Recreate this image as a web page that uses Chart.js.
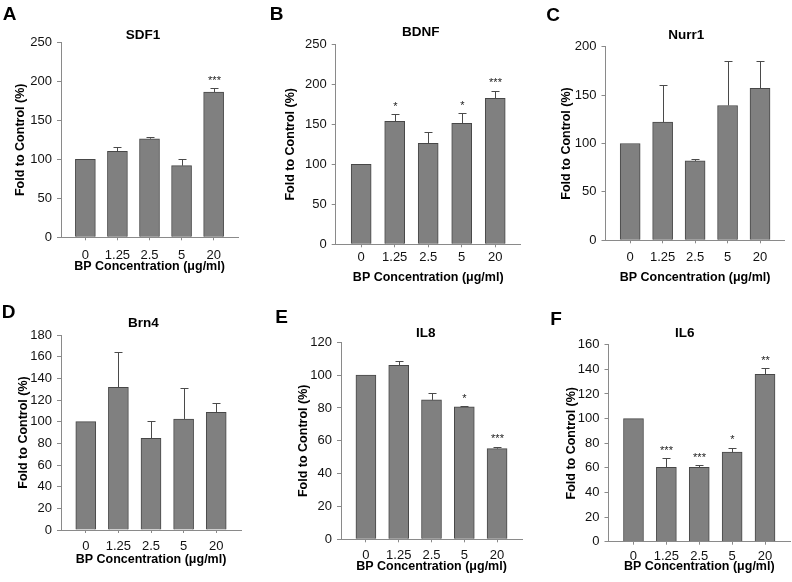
<!DOCTYPE html>
<html><head><meta charset="utf-8">
<script src="https://cdn.jsdelivr.net/npm/chart.js@4.4.1/dist/chart.umd.min.js"></script>
<style>
html,body{margin:0;padding:0;background:#fff;width:792px;height:582px;overflow:hidden;position:relative;font-family:"Liberation Sans",Arial,sans-serif}
canvas{position:absolute}
.lt{position:absolute;font-weight:bold;font-size:19px;line-height:1;transform:translate(-50%,-50%);color:#000}
.tt{position:absolute;font-weight:bold;font-size:13.5px;line-height:1;transform:translate(-50%,-50%);white-space:nowrap;color:#000}
</style></head><body>
<script>
// ---- data ----
const categories = ['0', '1.25', '2.5', '5', '20'];
const xAxisTitle = 'BP Concentration (μg/ml)';
const yAxisTitle = 'Fold to Control (%)';

const sdf1 = [100, 110.3, 126.4, 91.8, 186.3];
const sdf1Err = [0, 5, 2.5, 8, 4.7];
const sdf1Sig = ['', '', '', '', '***'];

const bdnf = [100, 153.8, 126.3, 151.3, 182.5];
const bdnfErr = [0, 8.7, 13.7, 12.5, 9.5];
const bdnfSig = ['', '*', '', '*', '***'];

const nurr1 = [100, 122, 82, 139.3, 157];
const nurr1Err = [0, 38.3, 2.2, 45.5, 28.5];
const nurr1Sig = ['', '', '', '', ''];

const brn4 = [100, 131.7, 84.6, 102.5, 108.6];
const brn4Err = [0, 32.3, 16, 28.9, 8.6];
const brn4Sig = ['', '', '', '', ''];

const il8 = [100, 106, 84.9, 80.7, 55.2];
const il8Err = [0, 2.6, 4, 0.4, 1.3];
const il8Sig = ['', '', '', '*', '***'];

const il6 = [100, 60.5, 60.5, 72.7, 136];
const il6Err = [0, 7.3, 1.6, 3.7, 5];
const il6Sig = ['', '***', '***', '*', '**'];

const yMaxes = [250, 250, 200, 180, 120, 160];
const ySteps = [50, 50, 50, 20, 20, 20];
const panelLetters = ['A', 'B', 'C', 'D', 'E', 'F'];
const panelTitles = ['SDF1', 'BDNF', 'Nurr1', 'Brn4', 'IL8', 'IL6'];

// ---- layout (page pixel geometry) ----
const layoutGeo = [
  {cl:0,   ct:0,   cw:264, ch:292, L:61,    R:238,   T:42.3,  B:237.3, yTitleX:20.8,  xTitleY:266.7, xTickY:255,   tx:143,   ty:35,    lx:9.5,   ly:13},
  {cl:264, ct:0,   cw:264, ch:292, L:335.7, R:520.7, T:44.3,  B:244.3, yTitleX:291,   xTitleY:278,   xTickY:257,   tx:420.7, ty:32.3,  lx:276.5, ly:13},
  {cl:528, ct:0,   cw:264, ch:292, L:605.5, R:784.7, T:46.7,  B:240.3, yTitleX:566.8, xTitleY:278,   xTickY:257.3, tx:686.3, ty:35,    lx:553,   ly:14},
  {cl:0,   ct:292, cw:264, ch:290, L:61,    R:241,   T:335,   B:530,   yTitleX:24,    xTitleY:560,   xTickY:546.7, tx:143.3, ty:323.3, lx:8.5,   ly:310.5},
  {cl:264, ct:292, cw:264, ch:290, L:341,   R:522,   T:342.3, B:539.3, yTitleX:303.2, xTitleY:566.7, xTickY:555,   tx:425.7, ty:333.3, lx:281.5, ly:315.5},
  {cl:528, ct:292, cw:264, ch:290, L:608.5, R:790,   T:344.7, B:541.7, yTitleX:571.7, xTitleY:566.7, xTickY:556.7, tx:684.7, ty:333.3, lx:556,   ly:317.5}
];

const series = [
  [sdf1, sdf1Err, sdf1Sig],
  [bdnf, bdnfErr, bdnfSig],
  [nurr1, nurr1Err, nurr1Sig],
  [brn4, brn4Err, brn4Sig],
  [il8, il8Err, il8Sig],
  [il6, il6Err, il6Sig]
];

const FONT = '"Liberation Sans", Arial, sans-serif';
const AXIS = '#8a8a8a';

const errPlugin = {
  id: 'errbars',
  afterDatasetsDraw(chart, args, opts) {
    const {ctx} = chart;
    const x = chart.scales.x, y = chart.scales.y;
    const vals = opts.values, errs = opts.errors, sig = opts.sig;
    ctx.save();
    ctx.strokeStyle = '#4a4a4a';
    ctx.lineWidth = 1;
    for (let i = 0; i < vals.length; i++) {
      const px = Math.round(x.getPixelForValue(i)) + 0.5;
      const y0 = y.getPixelForValue(vals[i]);
      const y1 = y.getPixelForValue(vals[i] + errs[i]);
      if (errs[i] > 0) {
        const yc = Math.round(y1) + 0.5;
        ctx.beginPath();
        ctx.moveTo(px, y0); ctx.lineTo(px, yc);
        ctx.moveTo(px - 4, yc); ctx.lineTo(px + 4, yc);
        ctx.stroke();
      }
      if (sig[i]) {
        ctx.font = '11px ' + FONT;
        ctx.textAlign = 'center';
        ctx.textBaseline = 'alphabetic';
        ctx.fillStyle = '#222';
        ctx.fillText(sig[i], px, y1 - 4.5);
      }
    }
    ctx.restore();
  }
};

function addDiv(cls, text, x, y) {
  const d = document.createElement('div');
  d.className = cls; d.textContent = text;
  d.style.left = x + 'px'; d.style.top = y + 'px';
  document.body.appendChild(d);
}

layoutGeo.forEach((g, k) => {
  const [vals, errs, sig] = series[k];
  const cv = document.createElement('canvas');
  cv.width = g.cw; cv.height = g.ch;
  cv.style.left = g.cl + 'px'; cv.style.top = g.ct + 'px';
  document.body.appendChild(cv);
  const boxLeft = g.yTitleX - 7.5, boxBottom = g.xTitleY + 7.5;
  const pad = {left: boxLeft - g.cl, right: g.cl + g.cw - g.R, top: g.T - g.ct, bottom: g.ct + g.ch - boxBottom};
  const yw = g.L - boxLeft, xh = boxBottom - g.B;
  const xTickPad = g.xTickY - g.B - 3 - 7.8;
  new Chart(cv, {
    type: 'bar',
    data: {
      datasets: [{
        data: vals.map((v, i) => ({x: i, y: v})),
        backgroundColor: '#808080',
        borderColor: '#474747',
        borderWidth: 1,
        borderSkipped: 'start',
        barThickness: 20
      }]
    },
    options: {
      responsive: false,
      animation: false,
      devicePixelRatio: 1,
      layout: {padding: pad},
      events: [],
      plugins: {
        legend: {display: false},
        tooltip: {enabled: false},
        title: {display: false},
        errbars: {values: vals, errors: errs, sig: sig}
      },
      scales: {
        x: {
          type: 'linear', min: -0.76, max: 4.76, offset: false,
          afterFit: s => { s.height = xh; },
          ticks: {stepSize: 1, includeBounds: false, autoSkip: false, maxRotation: 0, minRotation: 0,
                  padding: xTickPad, color: '#111', font: {family: FONT, size: 13, lineHeight: 1.2},
                  callback: v => (categories[v] !== undefined ? categories[v] : '')},
          grid: {drawOnChartArea: false, offset: false, tickLength: 3, color: AXIS},
          border: {color: AXIS, width: 1},
          title: {display: true, text: xAxisTitle, padding: 0, color: '#000',
                  font: {family: FONT, size: 12.5, weight: 'bold', lineHeight: 1.2}}
        },
        y: {
          min: 0, max: yMaxes[k],
          afterFit: s => { s.width = yw; },
          ticks: {stepSize: ySteps[k], padding: 5, color: '#111', font: {family: FONT, size: 13, lineHeight: 1.2}},
          grid: {drawOnChartArea: false, tickLength: 4, color: AXIS},
          border: {color: AXIS, width: 1},
          title: {display: true, text: yAxisTitle, padding: 0, color: '#000',
                  font: {family: FONT, size: 12.5, weight: 'bold', lineHeight: 1.2}}
        }
      }
    },
    plugins: [errPlugin]
  });
  addDiv('lt', panelLetters[k], g.lx, g.ly);
  addDiv('tt', panelTitles[k], g.tx, g.ty);
});
</script>
</body></html>
